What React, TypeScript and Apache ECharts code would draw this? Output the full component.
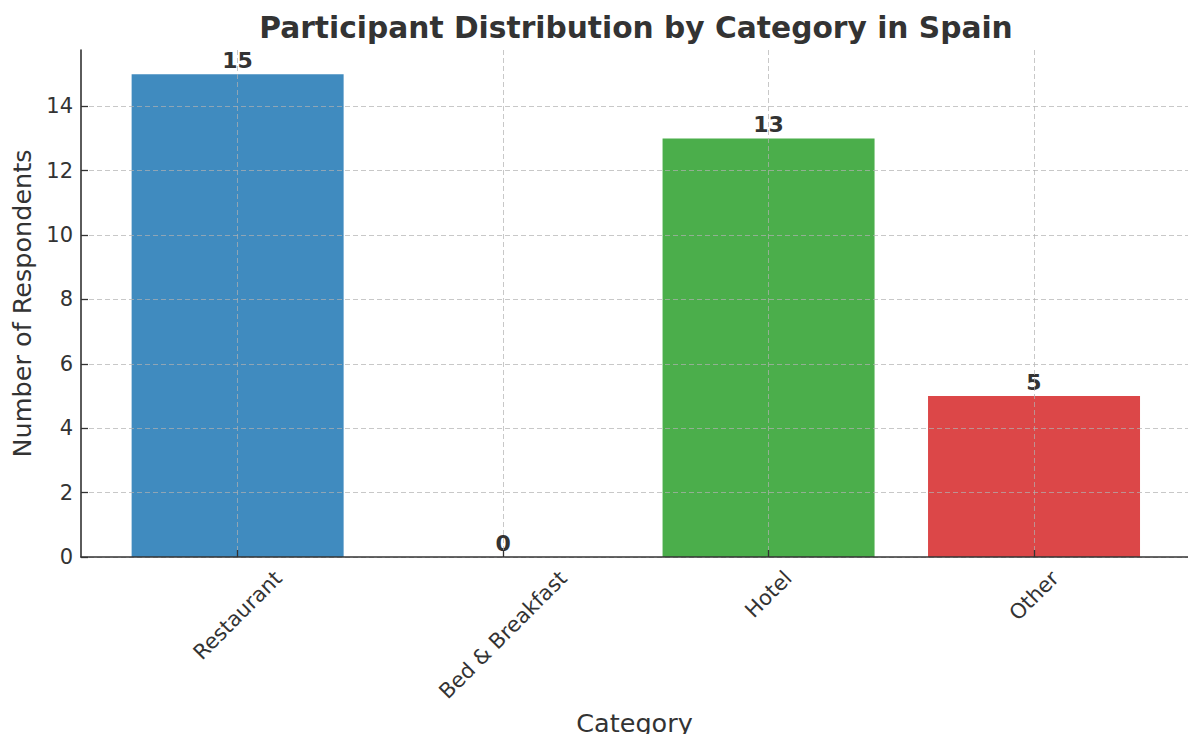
import React, { useEffect, useRef } from 'react';
import * as echarts from 'echarts';

const categories: string[] = ['Restaurant', 'Bed & Breakfast', 'Hotel', 'Other'];
const respondents: number[] = [15, 0, 13, 5];
const barColors: string[] = ['#408BBF', '#FF9232', '#4BAE4B', '#DC4748'];
const yTicks: number[] = [0, 2, 4, 6, 8, 10, 12, 14];
const yMax = 15.75;

const FONT = '"DejaVu Sans", "Noto Sans", sans-serif';
const TEXT = '#333333';
const TICK_FONT = 21;

function measure(text: string, size: number): number {
  const c = document.createElement('canvas');
  const ctx = c.getContext('2d');
  if (!ctx) return text.length * size * 0.6;
  ctx.font = `${size}px "DejaVu Sans"`;
  return ctx.measureText(text).width;
}

export default function App() {
  const ref = useRef<HTMLDivElement>(null);
  useEffect(() => {
    if (!ref.current) return;
    const chart = echarts.init(ref.current, undefined, { renderer: 'svg' });
    const xIdx = categories.map((_, i) => i);
    const rich: Record<string, any> = {};
    categories.forEach((c, i) => {
      const w = measure(c, TICK_FONT);
      const d = 0.354 * (w + 1.17 * TICK_FONT) - 2;
      const p = 1.414 * d;
      rich['c' + i] = {
        fontSize: TICK_FONT,
        fontFamily: FONT,
        color: TEXT,
        padding: [p, p, 0, 0],
      };
    });
    const grid = { color: 'rgba(176,176,176,0.7)', type: [5, 3] as any, width: 1 };
    const axisLineStyle = { color: '#333333', width: 1.6 };
    chart.setOption({
      animation: false,
      title: {
        text: 'Participant Distribution by Category in Spain',
        left: 636,
        top: 12,
        padding: 0,
        textAlign: 'center',
        textStyle: { fontFamily: FONT, fontWeight: 'bold', fontSize: 29.7, color: TEXT },
      },
      grid: { left: 81, right: 0, top: 50, bottom: 177, containLabel: false, outerBoundsMode: 'none' },
      xAxis: {
        type: 'value',
        min: -0.59,
        max: 3.58,
        z: 5,
        axisLine: { show: true, onZero: false, lineStyle: axisLineStyle },
        axisTick: { show: true, inside: true, length: 7, customValues: xIdx, lineStyle: { color: '#333333', width: 1.3 } },
        axisLabel: {
          customValues: xIdx,
          formatter: (v: number) => `{c${v}|${categories[v]}}`,
          rotate: 45,
          align: 'center',
          verticalAlign: 'middle',
          margin: 11,
          fontSize: TICK_FONT,
          fontFamily: FONT,
          color: TEXT,
          rich,
        },
        splitLine: { show: true, lineStyle: grid },
        name: 'Category',
        nameLocation: 'middle',
        nameGap: 144,
        nameTextStyle: { fontFamily: FONT, fontSize: 25.5, color: TEXT, verticalAlign: 'top' },
      },
      yAxis: {
        type: 'value',
        min: 0,
        max: yMax,
        z: 5,
        axisLine: { show: true, onZero: false, lineStyle: axisLineStyle },
        axisTick: { show: true, inside: true, length: 7, customValues: yTicks, lineStyle: { color: '#333333', width: 1.3 } },
        axisLabel: { customValues: yTicks, margin: 8, fontSize: TICK_FONT, fontFamily: FONT, color: TEXT },
        splitLine: { show: true, lineStyle: grid },
        name: 'Number of Respondents',
        nameLocation: 'middle',
        nameGap: 45,
        nameTextStyle: { fontFamily: FONT, fontSize: 25.5, color: TEXT },
      },
      series: [
        {
          type: 'bar',
          barWidth: 212,
          z: 2,
          data: categories.map((c, i) => ({
            name: c,
            value: [i, respondents[i]],
            itemStyle: { color: barColors[i] },
          })),
          label: {
            show: true,
            position: 'top',
            distance: 3,
            fontFamily: FONT,
            fontWeight: 'bold',
            fontSize: 22,
            color: TEXT,
            formatter: (p: any) => String(p.value[1]),
          },
        },
      ],
    });
    return () => chart.dispose();
  }, []);
  return (
    <div
      ref={ref}
      style={{ position: 'fixed', left: 0, top: 0, width: 1188, height: 734, background: '#ffffff' }}
    />
  );
}
